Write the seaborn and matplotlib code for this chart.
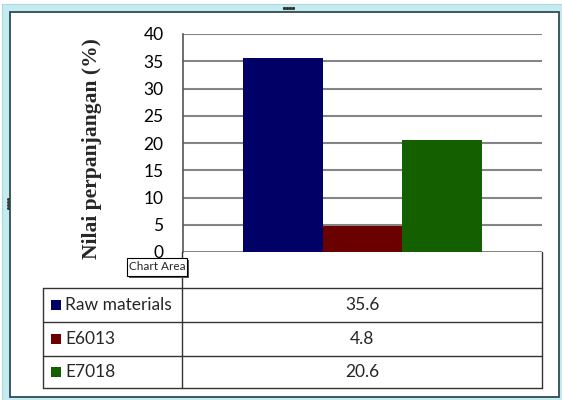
import matplotlib
matplotlib.use("Agg")
import matplotlib.pyplot as plt
from matplotlib.patches import Rectangle
from matplotlib.lines import Line2D
import seaborn as sns
import pandas as pd

# Elongation results per material
series = ["Raw materials", "E6013", "E7018"]
values = [35.6, 4.8, 20.6]
value_labels = ["35.6", "4.8", "20.6"]
colors = ["#000066", "#6b0000", "#146000"]
yticks = [0, 5, 10, 15, 20, 25, 30, 35, 40]

W, H = 562, 400
sns.set_theme(style="white")
plt.rcParams["font.family"] = ["Lato", "DejaVu Sans"]

fig = plt.figure(figsize=(W / 100, H / 100), dpi=100)
fig.patch.set_facecolor("white")


def fx(x):
    return x / W


def fy(y):
    return 1 - y / H


# window frame around the chart
fig.patches.append(Rectangle((fx(2), fy(400)), fx(560), 396 / H, transform=fig.transFigure,
                             facecolor="#c4ebf0", edgecolor="#a9d9df", lw=0.8, zorder=-2))
fig.patches.append(Rectangle((fx(9.5), fy(397)), fx(549), 385.5 / H, transform=fig.transFigure,
                             facecolor="white", edgecolor="#2e4d52", lw=1.3, zorder=-1))
# resize handles
fig.lines.append(Line2D([fx(x) for x in (284, 287, 290, 293)], [fy(8)] * 4, transform=fig.transFigure,
                        ls="none", marker="s", ms=1.2, color="#333333"))
fig.lines.append(Line2D([fx(8)] * 4, [fy(y) for y in (199, 202, 205, 208)], transform=fig.transFigure,
                        ls="none", marker="s", ms=1.0, color="#333333"))

# plot area
left, right, top, bottom = 183, 542, 34, 252
ax = fig.add_axes([fx(left), fy(bottom), (right - left) / W, (bottom - top) / H])
ax.set_zorder(1)
df = pd.DataFrame({"cat": [""] * len(series), "series": series, "value": values})
sns.barplot(data=df, x="cat", y="value", hue="series", palette=colors, width=2 / 3,
            saturation=1, legend=False, linewidth=0, ax=ax, zorder=3)
ax.set_xlim(-0.5, 0.5)
ax.set_ylim(0, 40)
ax.set_yticks(yticks)
ax.set_yticklabels([str(t) for t in yticks], fontsize=12.5, color="black")
ax.set_xticks([])
ax.set_xlabel("")
ax.set_ylabel("")
ax.tick_params(axis="y", length=0, pad=14)
for t in yticks:
    ax.axhline(t, color="#858585", lw=1.5, zorder=1)
for s in ("top", "right", "bottom"):
    ax.spines[s].set_visible(False)
ax.spines["left"].set_color("#555555")
ax.spines["left"].set_linewidth(1.2)
ax.set_facecolor("white")

fig.text(fx(92), fy(149), "Nilai perpanjangan (%)", rotation=90, ha="center", va="center",
         family="Liberation Serif", fontweight="bold", fontsize=15.5)

# data table below the plot
line_kw = dict(transform=fig.transFigure, color="#333333", lw=1.0)
tl, tm, tr = 43, 182, 542
rows = [288, 322, 356, 388]
for y in rows:
    fig.lines.append(Line2D([fx(tl), fx(tr)], [fy(y), fy(y)], **line_kw))
fig.lines.append(Line2D([fx(tl), fx(tl)], [fy(rows[0]), fy(rows[-1])], **line_kw))
fig.lines.append(Line2D([fx(tm), fx(tm)], [fy(bottom), fy(rows[-1])], **line_kw))
fig.lines.append(Line2D([fx(tr), fx(tr)], [fy(bottom), fy(rows[-1])], **line_kw))

for i, (name, lab, c) in enumerate(zip(series, value_labels, colors)):
    yc = (rows[i] + rows[i + 1]) / 2
    fig.patches.append(Rectangle((fx(51), fy(yc + 5)), 10 / W, 10 / H, transform=fig.transFigure,
                                 facecolor=c, edgecolor="none"))
    fig.text(fx(65), fy(yc), name, ha="left", va="center", fontsize=12.5)
    fig.text(fx((tm + tr) / 2), fy(yc), lab, ha="center", va="center", fontsize=12.5)

# hover tooltip
fig.patches.append(Rectangle((fx(129), fy(278)), 60 / W, 18 / H, transform=fig.transFigure,
                             facecolor="#555555", edgecolor="none", zorder=5))
fig.patches.append(Rectangle((fx(127), fy(276)), 60 / W, 18 / H, transform=fig.transFigure,
                             facecolor="white", edgecolor="black", lw=0.8, zorder=6))
fig.text(fx(157), fy(267), "Chart Area", ha="center", va="center", fontsize=8.5, zorder=7)

fig.savefig("out.png", dpi=100)
